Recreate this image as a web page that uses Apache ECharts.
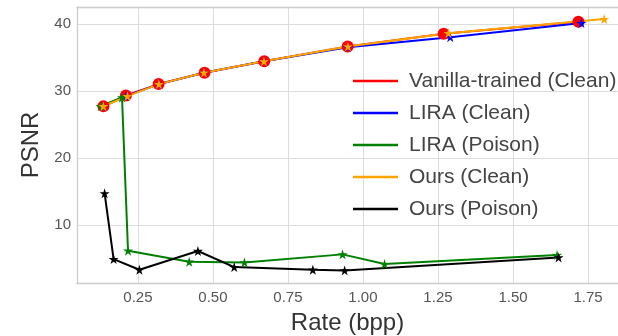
<!DOCTYPE html>
<html>
<head>
<meta charset="utf-8">
<script src="https://cdn.jsdelivr.net/npm/echarts@6/dist/echarts.min.js"></script>
<style>
  html, body { margin: 0; padding: 0; background: #fff; }
  #chart { width: 618px; height: 336px; }
</style>
</head>
<body>
<div id="chart"></div>
<script>
// values: [rate (bpp), PSNR]
var seriesNames = ['Vanilla-trained (Clean)', 'LIRA (Clean)', 'LIRA (Poison)', 'Ours (Clean)', 'Ours (Poison)'];
var vanillaClean = [[0.135, 27.7], [0.21, 29.3], [0.319, 31.0], [0.472, 32.7], [0.671, 34.4], [0.949, 36.6], [1.269, 38.5], [1.718, 40.3]];
var liraClean = [[0.135, 27.7], [0.21, 29.2], [0.32, 31.0], [0.47, 32.7], [0.67, 34.4], [0.95, 36.5], [1.291, 38.0], [1.728, 40.1]];
var liraPoison = [[0.126, 27.7], [0.197, 29.0], [0.217, 6.15], [0.421, 4.5], [0.605, 4.4], [0.932, 5.6], [1.072, 4.15], [1.647, 5.5]];
var oursClean = [[0.135, 27.7], [0.215, 29.2], [0.32, 31.0], [0.47, 32.7], [0.67, 34.4], [0.95, 36.6], [1.285, 38.6], [1.804, 40.7]];
var oursPoison = [[0.139, 14.7], [0.169, 4.9], [0.255, 3.3], [0.45, 6.1], [0.571, 3.7], [0.833, 3.3], [0.939, 3.2], [1.652, 5.15]];
var xTicks = [0.25, 0.5, 0.75, 1.0, 1.25, 1.5, 1.75];
var yTicks = [10, 20, 30, 40];

var colors = ['#ff0000', '#0000ff', '#008000', '#ffa500', '#000000'];
var star = 'path://M100,0 L122.3,69.3 L195.1,69.1 L136.1,111.7 L158.8,180.9 L100,138 L41.2,180.9 L63.9,111.7 L4.9,69.1 L77.7,69.3 Z';
var font = 'Liberation Sans';
var spine = { show: true, lineStyle: { color: '#cccccc', width: 1.3 } };

var chart = echarts.init(document.getElementById('chart'), null, { renderer: 'canvas' });

function makeSeries(name, data, color, symbol, size) {
    return {
        name: name,
        type: 'line',
        data: data,
        symbol: symbol,
        symbolSize: size,
        showAllSymbol: true,
        lineStyle: { color: color, width: 2 },
        itemStyle: { color: color },
        emphasis: { disabled: true },
        animation: false
    };
}

var option = {
    animation: false,
    // the plot runs past the right edge of the picture, so the right side is cut
    grid: { left: 77, right: 0, top: 7, bottom: 53, containLabel: false, outerBoundsMode: 'none' },
    legend: {
        orient: 'vertical',
        left: 348,
        top: 65,
        icon: 'rect',
        itemWidth: 45,
        itemHeight: 2.5,
        itemGap: 10,
        data: seriesNames,
        textStyle: { fontFamily: font, fontSize: 21, color: '#444', lineHeight: 22, padding: [0, 0, 0, 6] }
    },
    xAxis: [{
        type: 'value',
        min: 0.047,
        max: 1.85,
        name: 'Rate (bpp)',
        nameLocation: 'middle',
        nameGap: 28,
        nameTextStyle: { fontFamily: font, fontSize: 24, color: '#333' },
        axisLine: spine,
        axisTick: { show: false, customValues: xTicks },
        axisLabel: { customValues: xTicks, fontFamily: font, fontSize: 15, color: '#555', margin: 7,
            formatter: function (v) { return v.toFixed(2); } },
        splitLine: { show: true, lineStyle: { color: '#dddddd', width: 1 } }
    }, {
        type: 'value',
        position: 'top',
        min: 0.047,
        max: 1.85,
        axisLine: spine,
        axisTick: { show: false },
        axisLabel: { show: false },
        splitLine: { show: false }
    }],
    yAxis: {
        type: 'value',
        min: 1.33,
        max: 42.5,
        name: 'PSNR',
        nameLocation: 'middle',
        nameGap: 30,
        nameTextStyle: { fontFamily: font, fontSize: 24, color: '#333' },
        axisLine: spine,
        axisTick: { show: false, customValues: yTicks },
        axisLabel: { customValues: yTicks, fontFamily: font, fontSize: 15, color: '#555', margin: 6 },
        splitLine: { show: true, lineStyle: { color: '#dddddd', width: 1 } }
    },
    series: [
        makeSeries(seriesNames[0], vanillaClean, colors[0], 'circle', 12),
        makeSeries(seriesNames[1], liraClean, colors[1], star, 10),
        makeSeries(seriesNames[2], liraPoison, colors[2], star, 10),
        makeSeries(seriesNames[3], oursClean, colors[3], star, 10),
        makeSeries(seriesNames[4], oursPoison, colors[4], star, 10)
    ]
};
chart.setOption(option);
</script>
</body>
</html>
